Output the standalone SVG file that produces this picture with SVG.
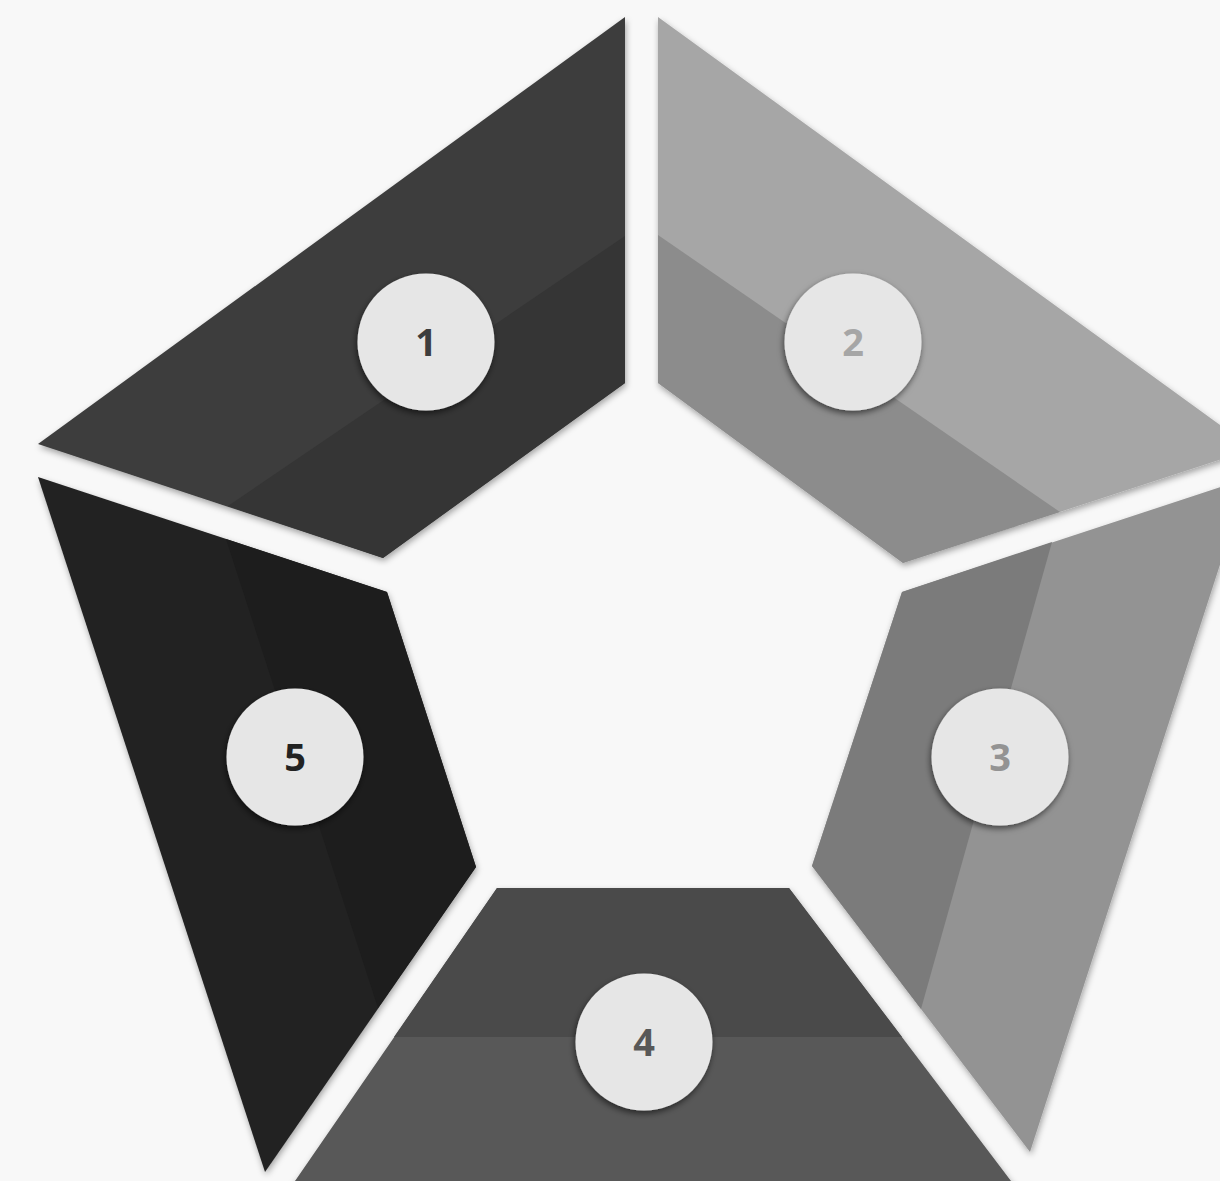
<svg xmlns="http://www.w3.org/2000/svg" width="1220" height="1181" viewBox="0 0 1220 1181">
<defs>
<filter id="segShadow" x="-10%" y="-10%" width="120%" height="120%">
<feDropShadow dx="1" dy="3" stdDeviation="3" flood-color="#000" flood-opacity="0.35"/>
</filter>
<filter id="circShadow" x="-20%" y="-20%" width="140%" height="140%">
<feDropShadow dx="-1" dy="3" stdDeviation="3" flood-color="#000" flood-opacity="0.55"/>
</filter>
</defs>
<style>
.num{font-family:"Open Sans","Liberation Sans",sans-serif;font-weight:700;font-size:38px;text-anchor:middle}
.badge{fill:#e6e6e6;filter:url(#circShadow)}
</style>
<rect width="1220" height="1181" fill="#f8f8f8"/>
<g id="segment-1">
<g filter="url(#segShadow)">
<polygon points="625,17 38,444 383,558 625,383" fill="#3d3d3d"/>
</g>
<polygon points="625,236 228,506 383,558 625,383" fill="#353535"/>
<circle class="badge" cx="426" cy="342" r="68.5"/>
<text class="num" x="426" y="356" fill="#3d3d3d">1</text>
</g>
<g id="segment-2">
<g filter="url(#segShadow)">
<polygon points="658,17 1253,449 903,563 658,383" fill="#a6a6a6"/>
</g>
<polygon points="658,235 1060,512 903,563 658,383" fill="#8c8c8c"/>
<circle class="badge" cx="853" cy="342" r="68.5"/>
<text class="num" x="853" y="356" fill="#a6a6a6">2</text>
</g>
<g id="segment-3">
<g filter="url(#segShadow)">
<polygon points="902,592 1248,478 1030,1152 812,866" fill="#939393"/>
</g>
<polygon points="902,592 1052,542 921,1009 812,866" fill="#7b7b7b"/>
<circle class="badge" cx="1000" cy="757" r="68.5"/>
<text class="num" x="1000" y="771" fill="#939393">3</text>
</g>
<g id="segment-4">
<g filter="url(#segShadow)">
<polygon points="497,888 789,888 1011,1181 1030,1200 270,1200 295,1181" fill="#585858"/>
</g>
<polygon points="497,888 789,888 902,1037 394,1037" fill="#4a4a4a"/>
<circle class="badge" cx="644" cy="1042" r="68.5"/>
<text class="num" x="644" y="1056" fill="#585858">4</text>
</g>
<g id="segment-5">
<g filter="url(#segShadow)">
<polygon points="38,477 387,592 476,867 265,1172" fill="#222222"/>
</g>
<polygon points="226,539 387,592 476,867 378,1008" fill="#1d1d1d"/>
<circle class="badge" cx="295" cy="757" r="68.5"/>
<text class="num" x="295" y="771" fill="#222222">5</text>
</g>
<g id="connectors"></g>
</svg>
